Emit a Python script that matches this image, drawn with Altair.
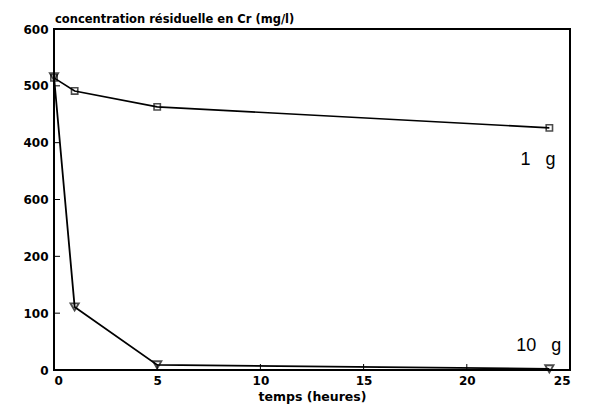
import altair as alt
import pandas as pd

hours_1g = [0, 1, 5, 24]
conc_1g = [514, 491, 463, 426]
hours_10g = [0, 1, 5, 24]
conc_10g = [516, 111, 9, 2]
x_ticks = [0, 5, 10, 15, 20, 25]
y_ticks = [0, 100, 200, 300, 400, 500, 600]
series_labels = ["1\u00a0\u00a0\u00a0g", "10\u00a0\u00a0\u00a0g"]
label_x = [22.6, 22.4]
label_y = [369, 42]

df1 = pd.DataFrame({"t": hours_1g, "c": conc_1g})
df10 = pd.DataFrame({"t": hours_10g, "c": conc_10g})
dlab = pd.DataFrame({"t": label_x, "c": label_y, "s": series_labels})
dxt = pd.DataFrame({"t": x_ticks[1:-1]})
dyt = pd.DataFrame({"c": y_ticks[1:-1]})

xs = alt.Scale(domain=[0, 25], nice=False, zero=False)
ys = alt.Scale(domain=[0, 600], nice=False)

label_expr = "datum.value == 300 ? '600' : datum.label"
FONT = "DejaVu Sans"

X = alt.X("t:Q", scale=xs, axis=alt.Axis(values=x_ticks, ticks=False, domain=False, grid=False,
                                         title="temps (heures)", labelFontSize=12, labelFontWeight="bold",
                                         labelFont=FONT, labelColor="black", labelPadding=5,
                                         titleFont=FONT, titleFontSize=12.5, titleFontWeight="bold",
                                         titleColor="black", titlePadding=4))
Y = alt.Y("c:Q", scale=ys, axis=alt.Axis(values=y_ticks, ticks=False, domain=False, grid=False, title=None,
                                         labelExpr=label_expr, labelFontSize=12, labelFontWeight="bold",
                                         labelFont=FONT, labelColor="black", labelPadding=6))

line1 = alt.Chart(df1).mark_line(color="black", strokeWidth=1.6).encode(x=X, y=Y)
pts1 = alt.Chart(df1).mark_point(shape="square", size=40, color="black", filled=False, strokeWidth=1.6).encode(x="t:Q", y="c:Q")
line10 = alt.Chart(df10).mark_line(color="black", strokeWidth=1.8).encode(x="t:Q", y="c:Q")
pts10 = alt.Chart(df10).mark_point(shape="triangle-down", size=70, color="black", filled=False, strokeWidth=1.8).encode(x="t:Q", y="c:Q")

labels = alt.Chart(dlab).mark_text(font="Liberation Sans", fontSize=18, color="black", align="left").encode(
    x="t:Q", y="c:Q", text="s:N")

xt = alt.Chart(dxt).mark_rule(color="black", strokeWidth=1).encode(
    x="t:Q", y=alt.value(341), y2=alt.value(335))
yt = alt.Chart(dyt).mark_rule(color="black", strokeWidth=1).encode(
    y="c:Q", x=alt.value(0), x2=alt.value(6))

title = alt.Chart(pd.DataFrame({"s": ["concentration résiduelle en Cr (mg/l)"]})).mark_text(
    font=FONT, fontSize=11.5, fontWeight="bold", color="black", align="left", baseline="bottom"
).encode(text="s:N", x=alt.value(1), y=alt.value(-4))

chart = alt.layer(line1, line10, pts1, pts10, labels, xt, yt, title).properties(
    width=516, height=341,
    background="white",
    autosize=alt.AutoSizeParams(type="none"),
    padding={"left": 46, "top": 21, "right": 26, "bottom": 41},
).configure_view(stroke="black", strokeWidth=2)

chart.save("out.html", embed_options={"renderer": "svg", "actions": False})
